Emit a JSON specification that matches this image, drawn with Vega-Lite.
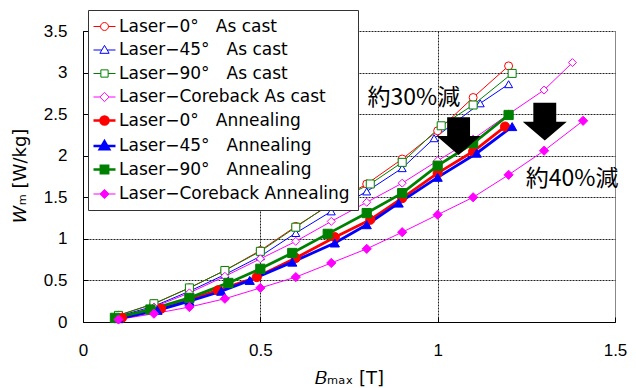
{
  "$schema": "https://vega.github.io/schema/vega-lite/v6.json",
  "width": 532,
  "height": 291,
  "autosize": "none",
  "padding": {"left": 83, "top": 31, "right": 21, "bottom": 66},
  "background": "white",
  "config": {
    "view": {"stroke": null},
    "axis": {
      "labelFont": "Liberation Sans",
      "labelFontSize": 17,
      "labelColor": "#000",
      "titleFont": "DejaVu Sans",
      "titleFontSize": 18,
      "titleFontWeight": "normal",
      "titleColor": "#000",
      "domainColor": "#000",
      "tickColor": "#000",
      "tickSize": -5,
      "gridColor": "#222222",
      "gridDash": [2, 1],
      "labelFlush": false
    }
  },
  "resolve": {"legend": {"stroke": "independent"}},
  "datasets": {
    "curves": [
      {"series": "Laser−0°　As cast", "b": 0.1, "w": 0.08},
      {"series": "Laser−0°　As cast", "b": 0.2, "w": 0.22},
      {"series": "Laser−0°　As cast", "b": 0.3, "w": 0.41},
      {"series": "Laser−0°　As cast", "b": 0.4, "w": 0.62},
      {"series": "Laser−0°　As cast", "b": 0.5, "w": 0.86},
      {"series": "Laser−0°　As cast", "b": 0.6, "w": 1.15},
      {"series": "Laser−0°　As cast", "b": 0.7, "w": 1.42},
      {"series": "Laser−0°　As cast", "b": 0.8, "w": 1.66},
      {"series": "Laser−0°　As cast", "b": 0.9, "w": 1.96},
      {"series": "Laser−0°　As cast", "b": 1.0, "w": 2.30},
      {"series": "Laser−0°　As cast", "b": 1.1, "w": 2.70},
      {"series": "Laser−0°　As cast", "b": 1.2, "w": 3.08},
      {"series": "Laser−45°　As cast", "b": 0.1, "w": 0.07},
      {"series": "Laser−45°　As cast", "b": 0.2, "w": 0.19},
      {"series": "Laser−45°　As cast", "b": 0.3, "w": 0.37},
      {"series": "Laser−45°　As cast", "b": 0.4, "w": 0.57},
      {"series": "Laser−45°　As cast", "b": 0.5, "w": 0.79},
      {"series": "Laser−45°　As cast", "b": 0.6, "w": 1.07},
      {"series": "Laser−45°　As cast", "b": 0.7, "w": 1.33},
      {"series": "Laser−45°　As cast", "b": 0.8, "w": 1.57},
      {"series": "Laser−45°　As cast", "b": 0.9, "w": 1.85},
      {"series": "Laser−45°　As cast", "b": 0.99, "w": 2.21},
      {"series": "Laser−45°　As cast", "b": 1.12, "w": 2.63},
      {"series": "Laser−45°　As cast", "b": 1.2, "w": 2.86},
      {"series": "Laser−90°　As cast", "b": 0.1, "w": 0.08},
      {"series": "Laser−90°　As cast", "b": 0.2, "w": 0.22},
      {"series": "Laser−90°　As cast", "b": 0.3, "w": 0.41},
      {"series": "Laser−90°　As cast", "b": 0.4, "w": 0.62},
      {"series": "Laser−90°　As cast", "b": 0.5, "w": 0.85},
      {"series": "Laser−90°　As cast", "b": 0.6, "w": 1.14},
      {"series": "Laser−90°　As cast", "b": 0.7, "w": 1.43},
      {"series": "Laser−90°　As cast", "b": 0.81, "w": 1.66},
      {"series": "Laser−90°　As cast", "b": 0.9, "w": 1.92},
      {"series": "Laser−90°　As cast", "b": 1.01, "w": 2.36},
      {"series": "Laser−90°　As cast", "b": 1.1, "w": 2.61},
      {"series": "Laser−90°　As cast", "b": 1.21, "w": 2.99},
      {"series": "Laser−Coreback As cast", "b": 0.1, "w": 0.05},
      {"series": "Laser−Coreback As cast", "b": 0.2, "w": 0.18},
      {"series": "Laser−Coreback As cast", "b": 0.3, "w": 0.35},
      {"series": "Laser−Coreback As cast", "b": 0.4, "w": 0.55},
      {"series": "Laser−Coreback As cast", "b": 0.5, "w": 0.76},
      {"series": "Laser−Coreback As cast", "b": 0.6, "w": 0.97},
      {"series": "Laser−Coreback As cast", "b": 0.7, "w": 1.21},
      {"series": "Laser−Coreback As cast", "b": 0.8, "w": 1.44},
      {"series": "Laser−Coreback As cast", "b": 0.9, "w": 1.67},
      {"series": "Laser−Coreback As cast", "b": 1.0, "w": 1.94},
      {"series": "Laser−Coreback As cast", "b": 1.1, "w": 2.2},
      {"series": "Laser−Coreback As cast", "b": 1.2, "w": 2.5},
      {"series": "Laser−Coreback As cast", "b": 1.3, "w": 2.79},
      {"series": "Laser−Coreback As cast", "b": 1.38, "w": 3.12},
      {"series": "Laser−0°　Annealing", "b": 0.11, "w": 0.05},
      {"series": "Laser−0°　Annealing", "b": 0.22, "w": 0.16},
      {"series": "Laser−0°　Annealing", "b": 0.3, "w": 0.27},
      {"series": "Laser−0°　Annealing", "b": 0.38, "w": 0.38},
      {"series": "Laser−0°　Annealing", "b": 0.49, "w": 0.54},
      {"series": "Laser−0°　Annealing", "b": 0.6, "w": 0.77},
      {"series": "Laser−0°　Annealing", "b": 0.71, "w": 1.02},
      {"series": "Laser−0°　Annealing", "b": 0.81, "w": 1.23},
      {"series": "Laser−0°　Annealing", "b": 0.9, "w": 1.49},
      {"series": "Laser−0°　Annealing", "b": 1.0, "w": 1.79},
      {"series": "Laser−0°　Annealing", "b": 1.1, "w": 2.05},
      {"series": "Laser−0°　Annealing", "b": 1.19, "w": 2.35},
      {"series": "Laser−45°　Annealing", "b": 0.1, "w": 0.04},
      {"series": "Laser−45°　Annealing", "b": 0.21, "w": 0.14},
      {"series": "Laser−45°　Annealing", "b": 0.3, "w": 0.25},
      {"series": "Laser−45°　Annealing", "b": 0.39, "w": 0.37},
      {"series": "Laser−45°　Annealing", "b": 0.47, "w": 0.50},
      {"series": "Laser−45°　Annealing", "b": 0.59, "w": 0.72},
      {"series": "Laser−45°　Annealing", "b": 0.71, "w": 0.95},
      {"series": "Laser−45°　Annealing", "b": 0.8, "w": 1.17},
      {"series": "Laser−45°　Annealing", "b": 0.89, "w": 1.43},
      {"series": "Laser−45°　Annealing", "b": 1.0, "w": 1.74},
      {"series": "Laser−45°　Annealing", "b": 1.11, "w": 2.03},
      {"series": "Laser−45°　Annealing", "b": 1.21, "w": 2.35},
      {"series": "Laser−90°　Annealing", "b": 0.09, "w": 0.05},
      {"series": "Laser−90°　Annealing", "b": 0.19, "w": 0.15},
      {"series": "Laser−90°　Annealing", "b": 0.3, "w": 0.29},
      {"series": "Laser−90°　Annealing", "b": 0.41, "w": 0.47},
      {"series": "Laser−90°　Annealing", "b": 0.5, "w": 0.64},
      {"series": "Laser−90°　Annealing", "b": 0.59, "w": 0.83},
      {"series": "Laser−90°　Annealing", "b": 0.69, "w": 1.06},
      {"series": "Laser−90°　Annealing", "b": 0.8, "w": 1.31},
      {"series": "Laser−90°　Annealing", "b": 0.9, "w": 1.55},
      {"series": "Laser−90°　Annealing", "b": 1.0, "w": 1.88},
      {"series": "Laser−90°　Annealing", "b": 1.1, "w": 2.15},
      {"series": "Laser−90°　Annealing", "b": 1.2, "w": 2.49},
      {"series": "Laser−Coreback Annealing", "b": 0.1, "w": 0.03},
      {"series": "Laser−Coreback Annealing", "b": 0.2, "w": 0.10},
      {"series": "Laser−Coreback Annealing", "b": 0.3, "w": 0.18},
      {"series": "Laser−Coreback Annealing", "b": 0.4, "w": 0.28},
      {"series": "Laser−Coreback Annealing", "b": 0.5, "w": 0.41},
      {"series": "Laser−Coreback Annealing", "b": 0.6, "w": 0.54},
      {"series": "Laser−Coreback Annealing", "b": 0.7, "w": 0.71},
      {"series": "Laser−Coreback Annealing", "b": 0.8, "w": 0.88},
      {"series": "Laser−Coreback Annealing", "b": 0.9, "w": 1.08},
      {"series": "Laser−Coreback Annealing", "b": 1.0, "w": 1.29},
      {"series": "Laser−Coreback Annealing", "b": 1.1, "w": 1.50},
      {"series": "Laser−Coreback Annealing", "b": 1.2, "w": 1.77},
      {"series": "Laser−Coreback Annealing", "b": 1.3, "w": 2.06},
      {"series": "Laser−Coreback Annealing", "b": 1.41, "w": 2.42}
    ],
    "arrows": [
      {"b": 1.059, "w": 2.236},
      {"b": 1.302, "w": 2.41}
    ],
    "notes": [
      {"b": 0.933, "w": 2.69, "label": "約30%減"},
      {"b": 1.379, "w": 1.72, "label": "約40%減"}
    ]
  },
  "encoding": {
    "x": {
      "field": "b", "type": "quantitative",
      "scale": {"domain": [0, 1.5], "nice": false, "zero": false},
      "axis": {
        "title": "𝐵ₘₐₓ [T]",
        "values": [0, 0.5, 1, 1.5],
        "format": "~g",
        "labelPadding": 25,
        "titleX": 266, "titleY": 56, "titleBaseline": "middle", "titleAlign": "center",
        "gridDash": {"condition": {"test": "datum.value === 1.5", "value": []}, "value": [2, 1]},
        "gridColor": {"condition": {"test": "datum.value === 1.5", "value": "#888888"}, "value": "#222222"}
      }
    },
    "y": {
      "field": "w", "type": "quantitative",
      "scale": {"domain": [0, 3.5], "nice": false, "zero": false},
      "axis": {
        "title": "𝑊ₘ [W/kg]",
        "values": [0, 0.5, 1, 1.5, 2, 2.5, 3, 3.5],
        "format": "~g",
        "labelPadding": 21,
        "titleX": -63, "titleY": 144, "titleBaseline": "middle", "titleAlign": "center"
      }
    }
  },
  "layer": [
    {
      "data": {"name": "curves"},
      "transform": [{"filter": "indexof(datum.series, 'As cast') >= 0 || indexof(datum.series, 'Coreback Annealing') >= 0"}],
      "mark": {"type": "line", "strokeWidth": 1},
      "encoding": {
        "stroke": {"field": "series", "type": "nominal", "legend": null,
          "scale": {"domain": ["Laser−0°　As cast", "Laser−45°　As cast", "Laser−90°　As cast", "Laser−Coreback As cast", "Laser−0°　Annealing", "Laser−45°　Annealing", "Laser−90°　Annealing", "Laser−Coreback Annealing"],
            "range": ["#ff0000", "#0000ff", "#008000", "#ff00ff", "#ff0000", "#0000ff", "#008000", "#ff00ff"]}}
      }
    },
    {
      "data": {"name": "curves"},
      "transform": [{"filter": "indexof(datum.series, 'As cast') >= 0"}],
      "mark": {"type": "point", "filled": true, "opacity": 1, "size": 64, "strokeWidth": 1},
      "encoding": {
        "stroke": {"field": "series", "type": "nominal",
          "legend": {
            "orient": "none", "legendX": 5, "legendY": -21, "title": null,
            "fillColor": "#ffffff", "strokeColor": "#333333", "padding": 8,
            "labelFont": "DejaVu Sans", "labelFontSize": 17, "labelColor": "#000000", "labelOffset": 6, "labelLimit": 400,
            "symbolType": "circle", "symbolSize": 484, "symbolStrokeWidth": 1, "symbolOffset": 0, "rowPadding": 5.5,
            "encoding": {
              "symbols": {
                "shape": {"value": {"expr": "['M-1,0L-0.36,0M0.36,0L1,0M0.36,0C0.36,0.2,0.2,0.36,0,0.36C-0.2,0.36,-0.36,0.2,-0.36,0C-0.36,-0.2,-0.2,-0.36,0,-0.36C0.2,-0.36,0.36,-0.2,0.36,0Z', 'M-1,0L-0.25,0M0.25,0L1,0M0,-0.42L0.42,0.3L-0.42,0.3Z', 'M-1,0L-0.33,0M0.33,0L1,0M-0.33,-0.33L0.33,-0.33L0.33,0.33L-0.33,0.33Z', 'M-1,0L-0.42,0M0.42,0L1,0M0,-0.42L0.42,0L0,0.42L-0.42,0Z'][(datum.index || 0) % 4]"}},
                "fill": {"value": {"expr": "['#ffffff','#ffffff','#ffffff','#ffffff','#ff0000','#0000ff','#008000','#ff00ff'][(datum.index || 0) % 8]"}},
                "strokeWidth": {"value": {"expr": "(datum.index >= 4 && datum.index <= 6) ? 2.6 : 1"}},
                "opacity": {"value": 1}
              }
            }
          }
        },
        "fill": {"field": "series", "type": "nominal", "legend": null,
          "scale": {"domain": ["Laser−0°　As cast", "Laser−45°　As cast", "Laser−90°　As cast", "Laser−Coreback As cast", "Laser−0°　Annealing", "Laser−45°　Annealing", "Laser−90°　Annealing", "Laser−Coreback Annealing"],
            "range": ["#ffffff", "#ffffff", "#ffffff", "#ffffff", "#ff0000", "#0000ff", "#008000", "#ff00ff"]}},
        "shape": {"field": "series", "type": "nominal", "legend": null,
          "scale": {"domain": ["Laser−0°　As cast", "Laser−45°　As cast", "Laser−90°　As cast", "Laser−Coreback As cast", "Laser−0°　Annealing", "Laser−45°　Annealing", "Laser−90°　Annealing", "Laser−Coreback Annealing"],
            "range": ["circle", "triangle-up", "square", "diamond", "circle", "triangle-up", "square", "diamond"]}}
      }
    },
    {
      "data": {"name": "curves"},
      "transform": [{"filter": "indexof(datum.series, 'Annealing') >= 0 && indexof(datum.series, 'Coreback') < 0"}],
      "mark": {"type": "line", "strokeWidth": 2.8},
      "encoding": {
        "stroke": {"field": "series", "type": "nominal", "legend": null}
      }
    },
    {
      "data": {"name": "curves"},
      "transform": [{"filter": "indexof(datum.series, 'Annealing') >= 0"}],
      "mark": {"type": "point", "filled": true, "opacity": 1, "size": 85, "strokeWidth": 1},
      "encoding": {
        "stroke": {"field": "series", "type": "nominal", "legend": null},
        "fill": {"field": "series", "type": "nominal", "legend": null},
        "shape": {"field": "series", "type": "nominal", "legend": null}
      }
    },
    {
      "data": {"name": "arrows"},
      "mark": {"type": "point", "filled": true, "opacity": 1, "color": "#000000", "strokeWidth": 0, "size": 1936,
        "shape": "M-0.52,-0.86L0.52,-0.86L0.52,0L1,0L0,0.86L-1,0L-0.52,0Z"}
    },
    {
      "data": {"name": "notes"},
      "mark": {"type": "text", "font": "Noto Sans CJK JP", "fontSize": 23, "color": "#000000", "align": "center", "baseline": "middle"},
      "encoding": {"text": {"field": "label", "type": "nominal"}}
    }
  ]
}
